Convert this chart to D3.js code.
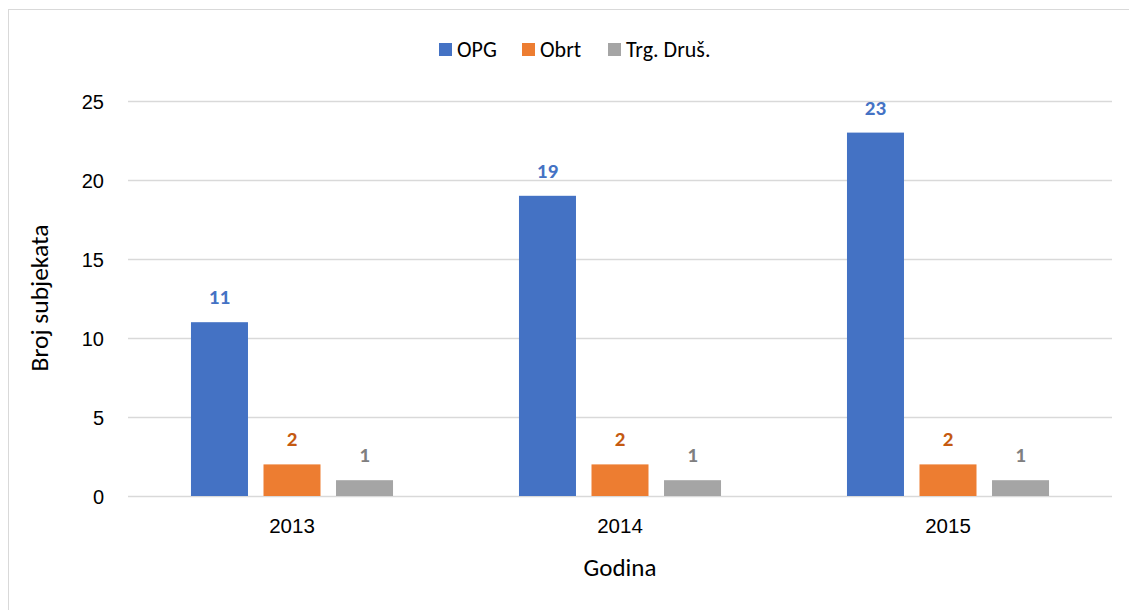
<!DOCTYPE html>
<html>
<head>
<meta charset="utf-8">
<script src="https://cdn.jsdelivr.net/npm/d3@7"></script>
<style>
  body { margin: 0; background: #fff; }
  svg { font-family: Carlito, Lato, "Open Sans", sans-serif; }
</style>
</head>
<body>
<div id="chart"></div>
<script>
// data
var years = ['2013', '2014', '2015'];
var seriesNames = ['OPG', 'Obrt', 'Trg. Druš.'];
var opg = [11, 19, 23];
var obrt = [2, 2, 2];
var trgDrus = [1, 1, 1];
var yTicks = [0, 5, 10, 15, 20, 25];

var barColors = ['#4472C4', '#ED7D31', '#A5A5A5'];
var labelColors = ['#4472C4', '#C55A11', '#7F7F7F'];

var W = 1129, H = 610;
var margin = {left: 128, right: 17, top: 101, bottom: 114};

var svg = d3.select('#chart').append('svg')
  .attr('width', W)
  .attr('height', H);

// chart frame
svg.append('rect')
  .attr('x', 8.5).attr('y', 9.5)
  .attr('width', W + 10).attr('height', H + 10)
  .attr('fill', '#fff')
  .attr('stroke', '#d9d9d9');

var x0 = d3.scaleBand()
  .domain(years)
  .range([margin.left, W - margin.right])
  .paddingInner(0.384)
  .paddingOuter(0.192);

var x1 = d3.scaleBand()
  .domain(seriesNames)
  .range([0, x0.bandwidth()])
  .paddingInner(0.214);

var y = d3.scaleLinear()
  .domain([0, 25])
  .range([H - margin.bottom, margin.top]);

// grid
svg.append('g')
  .selectAll('line')
  .data(yTicks)
  .enter()
  .append('line')
  .attr('x1', margin.left)
  .attr('x2', W - margin.right)
  .attr('y1', function(d) { return Math.round(y(d)) + 0.5; })
  .attr('y2', function(d) { return Math.round(y(d)) + 0.5; })
  .attr('stroke', '#d9d9d9')
  .attr('stroke-width', 1.3);

// y axis labels
var yAxis = d3.axisLeft(y).tickValues(yTicks).tickSize(0).tickPadding(0);
var yg = svg.append('g')
  .attr('transform', 'translate(' + (margin.left - 24) + ',0)')
  .call(yAxis);
yg.select('.domain').remove();
yg.selectAll('text')
  .attr('font-size', 20)
  .attr('fill', '#000')
  .attr('dy', '0.35em')
  .style('font-family', 'inherit');

// x axis labels
var xAxis = d3.axisBottom(x0).tickSize(0).tickPadding(0);
var xg = svg.append('g')
  .attr('transform', 'translate(0,533)')
  .call(xAxis);
xg.select('.domain').remove();
xg.selectAll('text')
  .attr('font-size', 20.5)
  .attr('fill', '#000')
  .attr('y', 0)
  .attr('dy', 0)
  .style('font-family', 'inherit');

// bars
var series = [opg, obrt, trgDrus];
var rows = [];
years.forEach(function(yr, i) {
  seriesNames.forEach(function(s, j) {
    rows.push({year: yr, name: s, idx: j, value: series[j][i]});
  });
});

var bars = svg.append('g');
bars.selectAll('rect')
  .data(rows)
  .enter()
  .append('rect')
  .attr('x', function(d) { return x0(d.year) + x1(d.name); })
  .attr('y', function(d) { return y(d.value); })
  .attr('width', x1.bandwidth())
  .attr('height', function(d) { return y(0) - y(d.value); })
  .attr('fill', function(d) { return barColors[d.idx]; });

// value labels
bars.selectAll('text')
  .data(rows)
  .enter()
  .append('text')
  .attr('x', function(d) { return x0(d.year) + x1(d.name) + x1.bandwidth() / 2; })
  .attr('y', function(d) { return y(d.value) - 18; })
  .attr('text-anchor', 'middle')
  .attr('font-size', 21)
  .attr('font-weight', 'bold')
  .attr('fill', function(d) { return labelColors[d.idx]; })
  .text(function(d) { return d.value; });

// axis titles
svg.append('text')
  .attr('x', (margin.left + W - margin.right) / 2)
  .attr('y', 576)
  .attr('text-anchor', 'middle')
  .attr('font-size', 25)
  .attr('fill', '#000')
  .text('Godina');

svg.append('text')
  .attr('transform', 'translate(48,' + 298 + ') rotate(-90)')
  .attr('text-anchor', 'middle')
  .attr('font-size', 25.5)
  .attr('fill', '#000')
  .text('Broj subjekata');

// legend
var legendX = [439, 522, 608];
var legend = svg.append('g')
  .selectAll('g')
  .data(seriesNames)
  .enter()
  .append('g')
  .attr('transform', function(d, i) { return 'translate(' + legendX[i] + ',43)'; });
legend.append('rect')
  .attr('width', 13).attr('height', 13)
  .attr('fill', function(d, i) { return barColors[i]; });
legend.append('text')
  .attr('x', 18)
  .attr('y', 6.5)
  .attr('dy', '0.35em')
  .attr('font-size', 22)
  .attr('fill', '#000')
  .text(function(d) { return d; });
</script>
</body>
</html>
